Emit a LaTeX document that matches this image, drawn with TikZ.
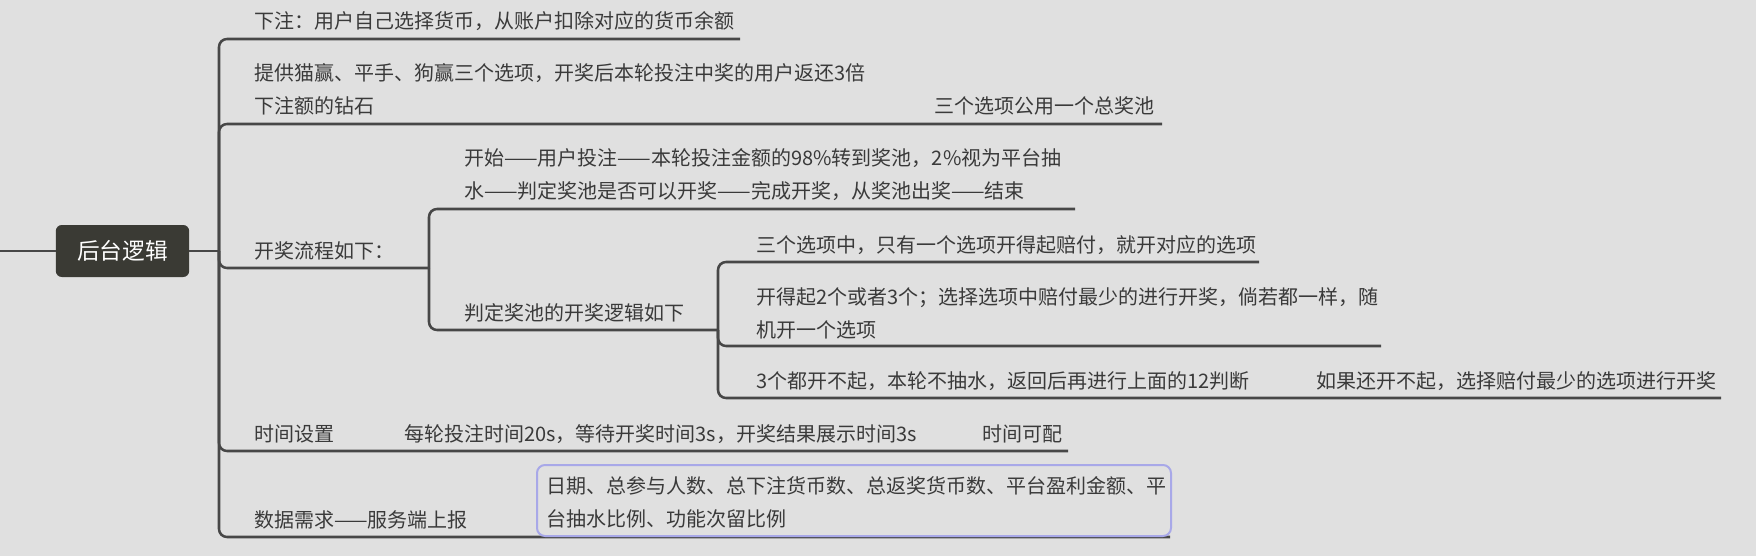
\documentclass[tikz,border=0pt]{standalone}
\usepackage{fontspec}
\setmainfont{Noto Sans CJK SC}
\definecolor{bgc}{HTML}{E0E0E0}
\definecolor{linec}{HTML}{474747}
\definecolor{txtc}{HTML}{3A3A3A}
\definecolor{rootc}{HTML}{3A3A34}
\definecolor{boxc}{HTML}{A8A8E8}
\begin{document}
\begin{tikzpicture}[x=0.75pt,y=-0.75pt,
  txt/.style={anchor=base west,inner sep=0pt,font=\fontsize{15pt}{24.75pt}\selectfont,text=txtc,align=left},
  conn/.style={draw=linec,line width=1.9pt,rounded corners=6pt},
  rootbox/.style={fill=rootc,rounded corners=4.5pt,text=white,font=\fontsize{17pt}{20pt}\selectfont,minimum width=100pt,minimum height=39pt,inner sep=0pt},
  databox/.style={draw=boxc,fill=bgc,line width=1.5pt,rounded corners=6pt,anchor=north west,inner xsep=6.75pt,inner ysep=0pt,text height=21.5pt,text depth=31.75pt,text width=462pt,align=left,font=\fontsize{15pt}{24.75pt}\selectfont,text=txtc}
]
\fill[bgc] (0,0) rectangle (1756,556);
\useasboundingbox (0,0) rectangle (1756,556);

% root
\node[rootbox] (root) at (122.5,251) {后台逻辑};
\coordinate (lft) at (0,251);
\coordinate (j0) at (219,251);
\draw[conn] (lft) -- (root.west);
\draw[conn] (root.east) -- (j0);

% branch 1
\node[txt] (b1) at (254,29) {下注：用户自己选择货币，从账户扣除对应的货币余额};
\coordinate (b1e) at (740,39);
\draw[conn] (j0) |- (b1e);

% branch 2
\node[txt] (b2) at (254,114) {提供猫赢、平手、狗赢三个选项，开奖后本轮投注中奖的用户返还3倍\\下注额的钻石};
\node[txt] (b2c) at (934,114) {三个选项公用一个总奖池};
\coordinate (b2e) at (1162,124);
\draw[conn] (j0) |- (b2e);

% branch 3
\node[txt] (b3) at (254,258) {开奖流程如下：};
\coordinate (j3) at (429,268);
\draw[conn] (j0) |- (j3);

\node[txt] (b3a) at (464,199) {开始——用户投注——本轮投注金额的98\%转到奖池，2\%视为平台抽\\水——判定奖池是否可以开奖——完成开奖，从奖池出奖——结束};
\coordinate (b3ae) at (1075,209);
\draw[conn] (j3) |- (b3ae);

\node[txt] (b3b) at (464,320) {判定奖池的开奖逻辑如下};
\coordinate (j3b) at (718,330);
\draw[conn] (j3) |- (j3b);

\node[txt] (c1) at (756,252) {三个选项中，只有一个选项开得起赔付，就开对应的选项};
\coordinate (c1e) at (1259,262);
\draw[conn] (j3b) |- (c1e);

\node[txt] (c2) at (756,337) {开得起2个或者3个；选择选项中赔付最少的进行开奖，倘若都一样，随\\机开一个选项};
\coordinate (c2e) at (1381,346);
\draw[conn] (j3b) |- (c2e);

\node[txt] (c3) at (756,388) {3个都开不起，本轮不抽水，返回后再进行上面的12判断};
\node[txt] (c3c) at (1316,388) {如果还开不起，选择赔付最少的选项进行开奖};
\coordinate (c3e) at (1721,398);
\draw[conn] (j3b) |- (c3e);

% branch 4
\node[txt] (b4) at (254,441) {时间设置};
\node[txt] (b4c) at (404,441) {每轮投注时间20s，等待开奖时间3s，开奖结果展示时间3s};
\node[txt] (b4g) at (982,441) {时间可配};
\coordinate (b4e) at (1068,451);
\draw[conn] (j0) |- (b4e);

% branch 5
\node[txt] (b5) at (254,527) {数据需求——服务端上报};
\coordinate (b5e) at (1170,537);
\draw[conn] (j0) |- (b5e);
\node[databox] (b5c) at (536,464) {日期、总参与人数、总下注货币数、总返奖货币数、平台盈利金额、平\\台抽水比例、功能次留比例};
\end{tikzpicture}
\end{document}
